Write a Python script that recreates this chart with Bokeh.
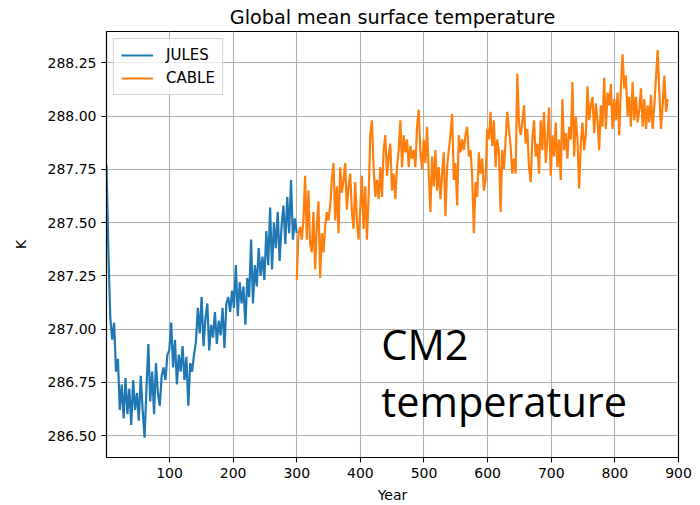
import numpy as np
from bokeh.plotting import figure
from bokeh.models import FixedTicker, NumeralTickFormatter, Label, Legend, LegendItem
from bokeh.embed import file_html
from bokeh.resources import INLINE

# Global mean surface temperature (K), sampled along each run
jules_temp = [
    287.77, 287.36, 287.05, 286.95, 287.03, 286.80, 286.86, 286.62, 286.74, 286.58,
    286.77, 286.60, 286.72, 286.55, 286.76, 286.62, 286.70, 286.57, 286.78, 286.62,
    286.49, 286.72, 286.93, 286.66, 286.80, 286.60, 286.84, 286.70, 286.64, 286.78,
    286.82, 286.76, 286.88, 286.90, 287.03, 286.82, 286.95, 286.74, 286.88, 286.80,
    286.92, 286.76, 286.87, 286.64, 286.84, 286.80, 286.88, 286.94, 287.10, 286.98,
    287.15, 286.92, 287.05, 287.12, 286.90, 287.02, 286.96, 287.08, 286.93, 287.04,
    286.97, 287.10, 286.91, 287.12, 287.15, 287.08, 287.18, 287.10, 287.30, 287.06,
    287.22, 287.12, 287.20, 287.02, 287.24, 287.15, 287.42, 287.12, 287.30, 287.20,
    287.38, 287.25, 287.34, 287.23, 287.46, 287.30, 287.57, 287.28, 287.50, 287.38,
    287.55, 287.32, 287.48, 287.58, 287.40, 287.62, 287.45, 287.70, 287.42, 287.52,
    287.45,
]

cable_temp = [
    287.23, 287.44, 287.48, 287.42, 287.51, 287.72, 287.42, 287.65, 287.40, 287.36,
    287.55, 287.28, 287.48, 287.60, 287.24, 287.45, 287.36, 287.48, 287.55, 287.51,
    287.58, 287.70, 287.78, 287.51, 287.67, 287.45, 287.76, 287.64, 287.70, 287.78,
    287.56, 287.67, 287.73, 287.55, 287.47, 287.69, 287.51, 287.42, 287.56, 287.72,
    287.47, 287.67, 287.42, 287.62, 287.91, 287.98, 287.76, 287.62, 287.70, 287.61,
    287.76, 287.62, 287.84, 287.91, 287.72, 287.81, 287.87, 287.65, 287.73, 287.61,
    287.76, 287.84, 287.98, 287.76, 287.91, 287.83, 287.89, 287.76, 287.86, 287.80,
    287.84, 287.76, 287.95, 288.03, 287.83, 287.75, 287.89, 287.78, 287.95, 287.73,
    287.55, 287.81, 287.67, 287.84, 287.65, 287.76, 287.61, 287.73, 287.83, 287.53,
    287.76, 287.84, 287.91, 288.01, 287.70, 287.78, 287.58, 287.91, 287.83, 287.89,
    287.84, 287.91, 287.95, 287.81, 287.84, 287.72, 287.45, 287.69, 287.62, 287.83,
    287.73, 287.80, 287.65, 287.70, 287.94, 287.89, 288.02, 287.86, 287.98, 287.76,
    287.89, 287.83, 287.55, 287.84, 287.75, 287.89, 288.02, 287.94, 287.86, 287.73,
    287.80, 287.73, 288.20, 287.97, 287.91, 287.97, 288.05, 287.87, 287.94, 287.76,
    287.69, 287.89, 287.98, 287.81, 287.87, 287.73, 287.98, 287.84, 288.02, 287.78,
    287.89, 288.04, 287.72, 287.91, 287.81, 287.97, 287.76, 287.89, 287.70, 288.08,
    287.84, 287.92, 287.80, 287.95, 287.89, 288.16, 287.81, 288.00, 287.89, 287.66,
    287.87, 287.97, 287.84, 287.91, 288.14, 287.98, 288.05, 288.09, 287.92, 288.06,
    287.98, 287.84, 288.05, 287.95, 288.18, 287.94, 288.11, 288.05, 288.15, 287.94,
    288.08, 287.98, 288.11, 287.91, 288.14, 288.29, 288.13, 288.19, 288.00, 288.09,
    287.95, 288.16, 287.98, 288.09, 287.97, 288.03, 288.13, 287.95, 288.08, 287.94,
    288.05, 287.97, 288.10, 287.94, 288.05, 288.18, 288.31, 288.11, 287.94, 288.05,
    288.19, 288.02, 288.08,
]

# model years covered by each run
jules_span = (1, 300)
cable_span = (300, 883)

x_ticks = [100, 200, 300, 400, 500, 600, 700, 800, 900]
y_ticks = [286.50, 286.75, 287.00, 287.25, 287.50, 287.75, 288.00, 288.25]

jules_years = np.linspace(jules_span[0], jules_span[1], len(jules_temp))
cable_years = np.linspace(cable_span[0], cable_span[1], len(cable_temp))

FONT = "DejaVu Sans"

p = figure(
    width=700, height=505,
    x_range=(1, 900), y_range=(286.397, 288.397),
    output_backend="svg", toolbar_location=None,
    min_border_left=106, min_border_right=22,
    min_border_top=31, min_border_bottom=48,
    title="Global mean surface temperature",
)

p.title.align = "center"
p.title.text_font = FONT
p.title.text_font_size = "19.2px"
p.title.text_font_style = "normal"
p.title.text_color = "black"
p.title.standoff = 5

r1 = p.line(jules_years, jules_temp, line_color="#1f77b4", line_width=2.2)
r2 = p.line(cable_years, cable_temp, line_color="#ff7f0e", line_width=2.2)

# axes
for ax in (p.xaxis[0], p.yaxis[0]):
    ax.axis_line_color = "black"
    ax.axis_line_width = 1.1
    ax.major_tick_line_color = "black"
    ax.major_tick_line_width = 1.1
    ax.major_tick_in = 0
    ax.major_tick_out = 5
    ax.minor_tick_line_color = None
    ax.major_label_text_font = FONT
    ax.major_label_text_font_size = "14px"
    ax.major_label_text_color = "black"
    ax.axis_label_text_font = FONT
    ax.axis_label_text_font_size = "14px"
    ax.axis_label_text_font_style = "normal"
    ax.axis_label_text_color = "black"
    ax.major_label_standoff = 5

p.xaxis.ticker = FixedTicker(ticks=x_ticks)
p.yaxis.ticker = FixedTicker(ticks=y_ticks)
p.yaxis.formatter = NumeralTickFormatter(format="0.00")
p.xaxis.axis_label = "Year"
p.yaxis.axis_label = "K"
p.xaxis.axis_label_standoff = 6
p.yaxis.axis_label_standoff = 16

p.outline_line_color = "black"
p.outline_line_width = 1.1
p.outline_line_alpha = 1.0

for g in (p.xgrid[0], p.ygrid[0]):
    g.grid_line_color = "#b0b0b0"
    g.grid_line_width = 1.1
p.xgrid.ticker = FixedTicker(ticks=x_ticks)
p.ygrid.ticker = FixedTicker(ticks=y_ticks)

legend = Legend(
    items=[LegendItem(label="JULES", renderers=[r1]),
           LegendItem(label="CABLE", renderers=[r2])],
    location="top_left",
    margin=7,
    padding=7,
    spacing=5,
    glyph_width=32,
    glyph_height=18,
    label_height=18,
    label_standoff=13,
    label_text_font=FONT,
    label_text_font_size="15px",
    label_text_color="black",
    border_line_color="#cccccc",
    border_line_alpha=0.8,
    background_fill_alpha=0.8,
)
p.add_layout(legend)

# annotation in the lower right of the plot
for txt, yv in (("CM2", 286.93), ("temperature", 286.66)):
    p.add_layout(Label(
        x=433, y=yv, text=txt,
        text_font="Open Sans", text_font_size="41.5px",
        text_color="black", text_baseline="alphabetic",
    ))

open("out.html", "w").write(file_html(p, INLINE))
